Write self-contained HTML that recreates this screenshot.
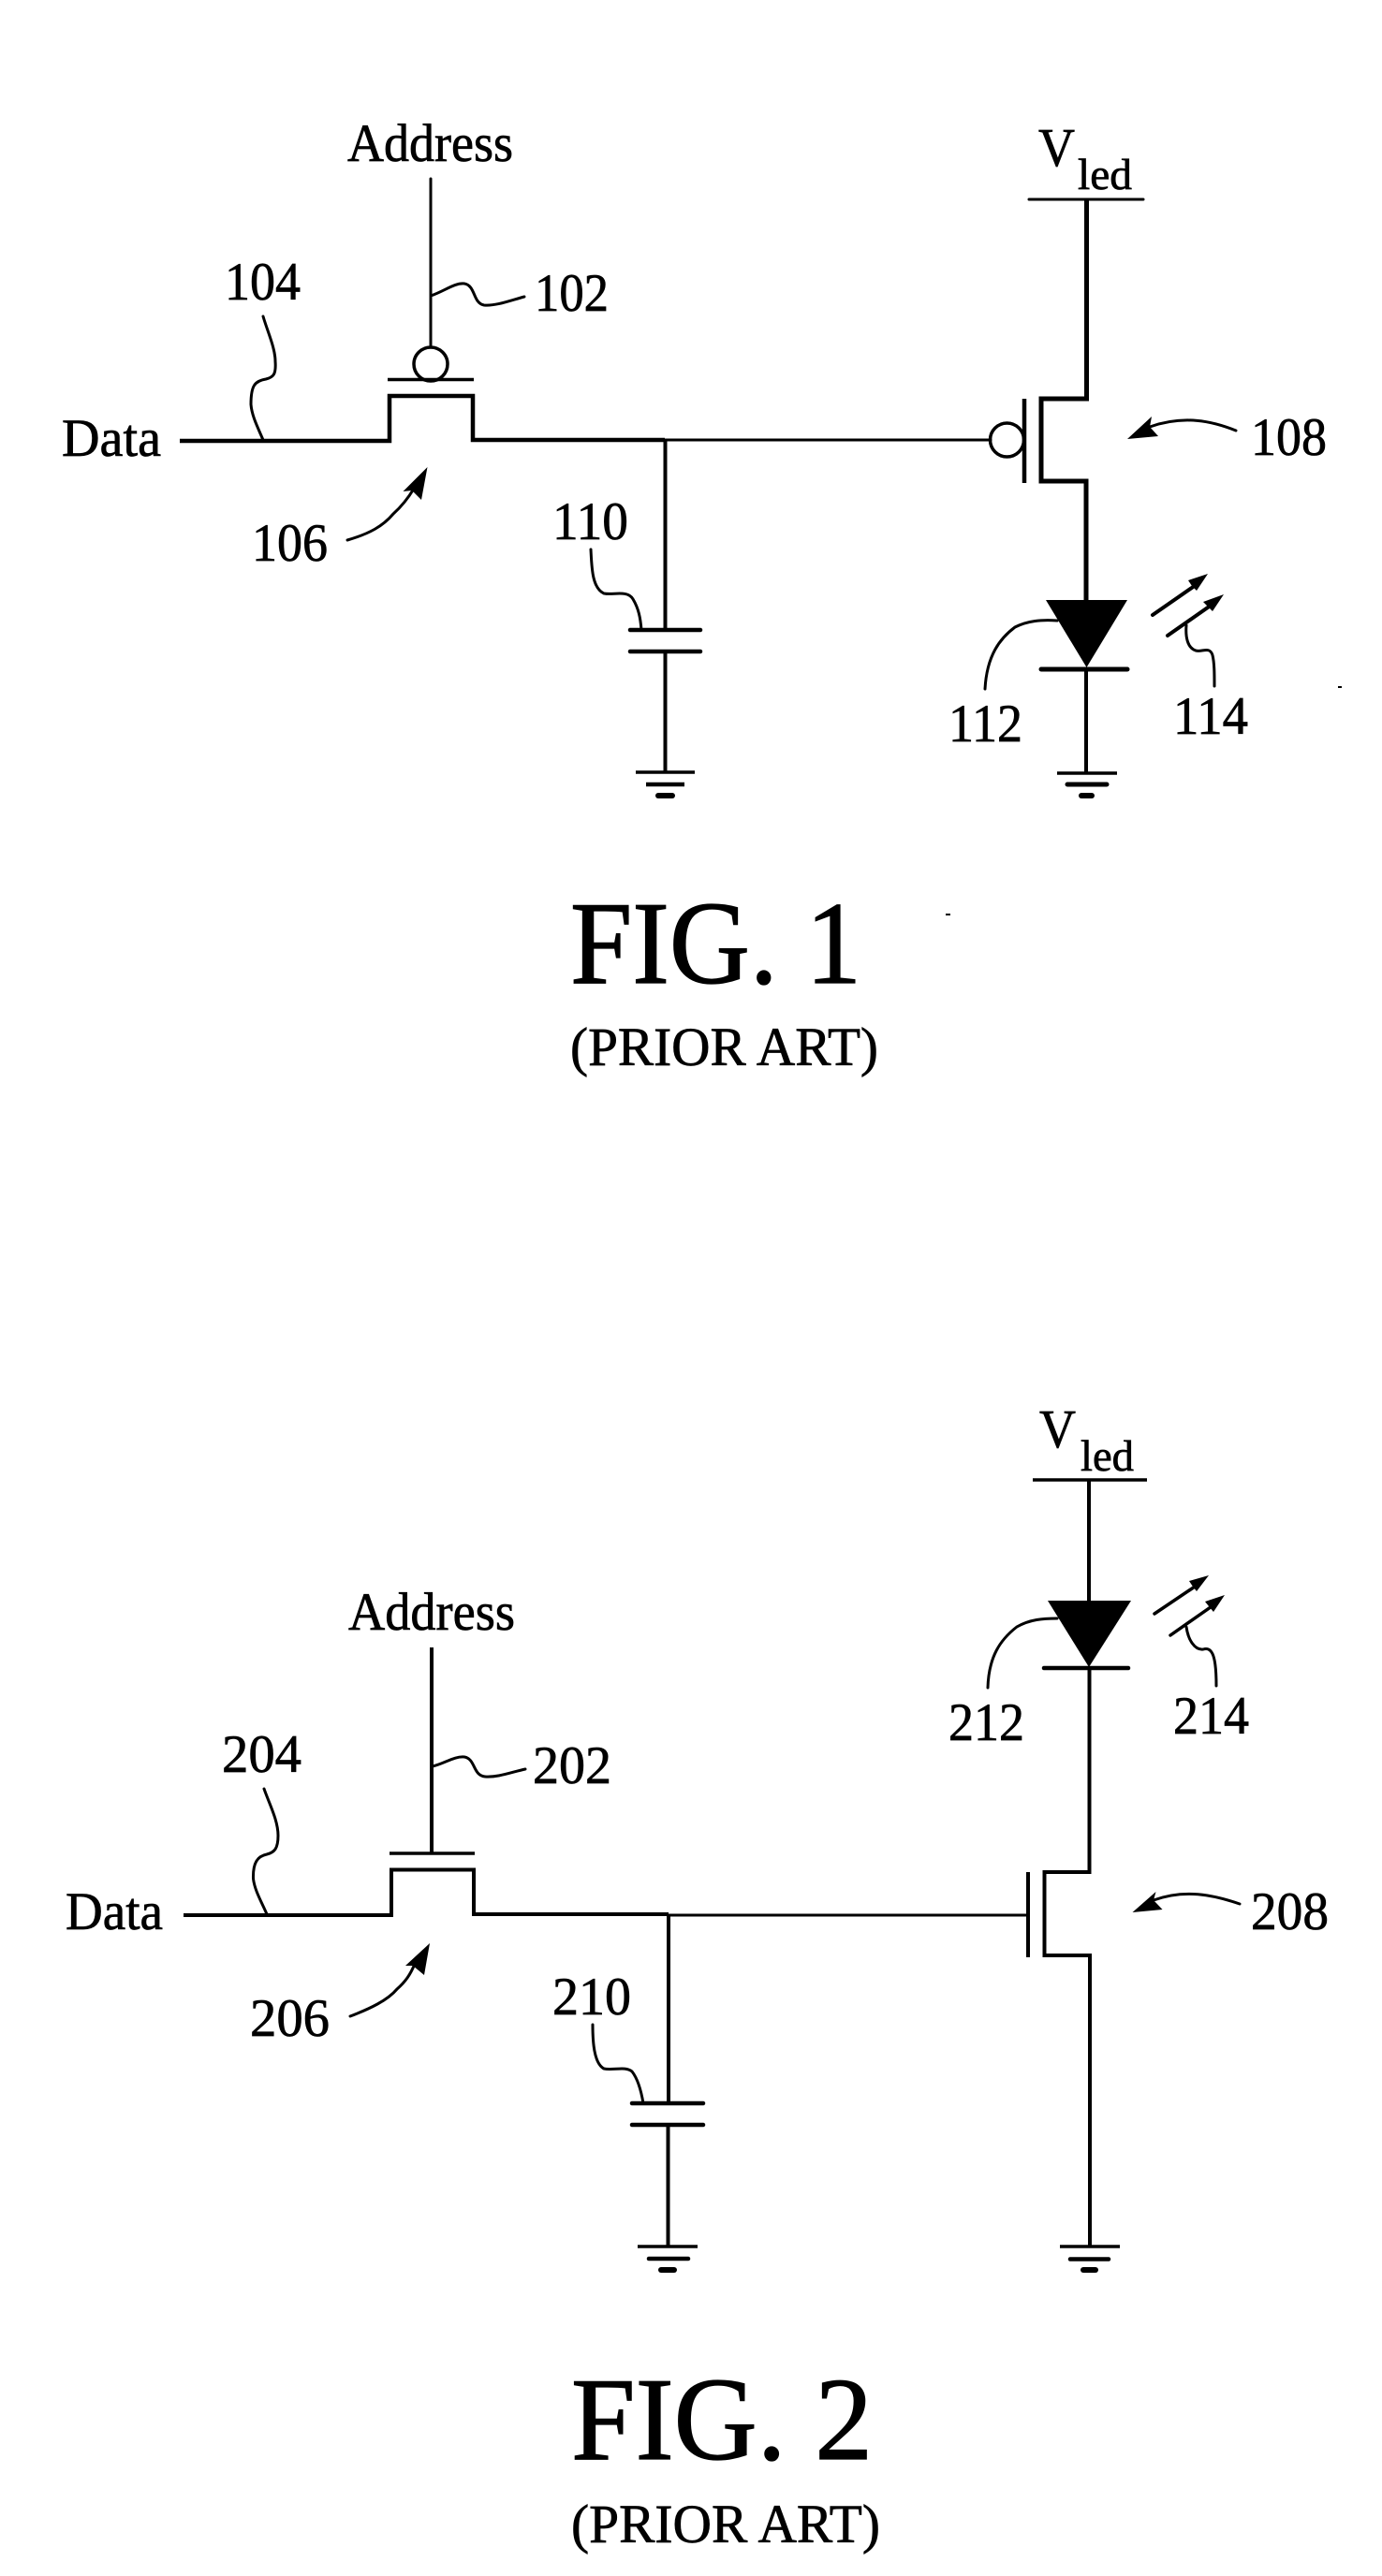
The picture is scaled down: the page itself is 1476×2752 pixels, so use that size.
<!DOCTYPE html>
<html><head><meta charset="utf-8"><style>
html,body{margin:0;padding:0;background:#fff;width:1476px;height:2752px;overflow:hidden}
svg{display:block}
text{font-family:"Liberation Serif",serif;fill:#000;stroke:#000;stroke-width:.7}
.w{fill:none;stroke:#000;stroke-width:4;stroke-linejoin:miter;stroke-linecap:butt}
.t{fill:none;stroke:#000;stroke-width:3;stroke-linecap:round}
.l{fill:none;stroke:#000;stroke-width:3;stroke-linecap:round}
.n{font-size:57px}
.f{stroke-width:1.3}
</style></head><body>
<svg width="1476" height="2752" viewBox="0 0 1476 2752" xmlns="http://www.w3.org/2000/svg">
<rect width="1476" height="2752" fill="#fff"/>

<!-- FIG 1 -->
<text x="371" y="172" font-size="57" textLength="177" lengthAdjust="spacingAndGlyphs">Address</text>
<text x="66" y="487" font-size="57" textLength="106" lengthAdjust="spacingAndGlyphs">Data</text>
<text class="n" x="240" y="320" textLength="81" lengthAdjust="spacingAndGlyphs">104</text>
<text class="n" x="571" y="332" textLength="79" lengthAdjust="spacingAndGlyphs">102</text>
<text class="n" x="269" y="599" textLength="81" lengthAdjust="spacingAndGlyphs">106</text>
<text class="n" x="590" y="576" textLength="81" lengthAdjust="spacingAndGlyphs">110</text>
<text class="n" x="1336" y="486" textLength="81" lengthAdjust="spacingAndGlyphs">108</text>
<text class="n" x="1013" y="792" textLength="79" lengthAdjust="spacingAndGlyphs">112</text>
<text class="n" x="1253" y="784" textLength="80" lengthAdjust="spacingAndGlyphs">114</text>
<text x="1109" y="177" font-size="58" textLength="39" lengthAdjust="spacingAndGlyphs">V</text>
<text x="1151" y="202" font-size="47" textLength="58" lengthAdjust="spacingAndGlyphs">led</text>

<path class="t" d="M460 191V371"/>
<circle cx="460" cy="389" r="18" fill="none" stroke="#000" stroke-width="3.5"/>
<path class="w" d="M414 405.5H506" style="stroke-width:3.5"/>
<path class="w" d="M192 471H416V423H505V470H710" style="stroke-width:4.5"/>
<path class="t" d="M710 470H1058"/>
<path class="w" d="M710.5 470V673M710.5 696V825"/>
<path class="w" d="M673 673H748M673 696H748" style="stroke-width:4.5;stroke-linecap:round"/>
<path class="w" d="M679 825H742" style="stroke-width:3.5"/>
<path class="w" d="M690 838H731" style="stroke-width:4.5"/>
<path class="w" d="M703 850H718" style="stroke-width:6;stroke-linecap:round"/>

<path class="t" d="M1099 213H1221"/>
<path class="w" d="M1160.5 213V426H1112V514H1160V641" style="stroke-width:5"/>
<path class="w" d="M1094 426V516" style="stroke-width:4.5"/>
<circle cx="1075.5" cy="470" r="18" fill="none" stroke="#000" stroke-width="3.5"/>
<polygon points="1117,641 1204,641 1160.5,713"/>
<path class="w" d="M1112 715H1204" style="stroke-width:5;stroke-linecap:round"/>
<path class="w" d="M1160 715V826" style="stroke-width:4"/>
<path class="w" d="M1129 826H1193" style="stroke-width:3.5"/>
<path class="w" d="M1140 838H1182" style="stroke-width:5;stroke-linecap:round"/>
<path class="w" d="M1155 850H1166" style="stroke-width:6;stroke-linecap:round"/>

<path class="l" d="M281 338C286 355 294 372 294 386C295 400 292 403 284 405C272 407 268 412 268 432C269 445 276 458 281 470"/>
<path class="l" d="M460 316C475 311 485 302 496 303C508 305 505 324 517 326C530 327 545 321 560 317"/>
<path class="l" d="M371 577C395 570 409 562 420 549C430 540 436 532 442 522"/>
<polygon points="456.5,499 430.5,525 440,524 450,534"/>
<path class="l" d="M631 587C632 605 632 628 645 634C655 636 670 630 676 640C682 650 684 660 685 673"/>
<path class="l" d="M1320 460C1295 450 1265 443 1228 456"/>
<polygon points="1204,469 1230,445 1228,456 1237,466"/>
<path class="l" d="M1231 657L1280 623" style="stroke-width:4"/>
<polygon points="1290,613 1269,620 1273,626 1278,631"/>
<path class="l" d="M1247 679L1297 644" style="stroke-width:4"/>
<polygon points="1307,635 1285,643 1290,648 1295,653"/>
<path class="l" d="M1267 668C1266 680 1268 692 1277 695C1284 697 1292 690 1295 700C1297 708 1297 720 1297 733"/>
<path class="l" d="M1052 736C1054 700 1068 682 1084 670C1098 663 1112 662 1129 663"/>
<rect x="1429" y="733" width="4" height="2"/>
<rect x="1010" y="976" width="5" height="2"/>

<text class="f" x="609" y="1050" font-size="126" textLength="311" lengthAdjust="spacingAndGlyphs">FIG. 1</text>
<text x="609" y="1138" font-size="58" textLength="329" lengthAdjust="spacingAndGlyphs">(PRIOR ART)</text>

<!-- FIG 2 -->
<text x="372" y="1741" font-size="57" textLength="178" lengthAdjust="spacingAndGlyphs">Address</text>
<text x="70" y="2061" font-size="57" textLength="104" lengthAdjust="spacingAndGlyphs">Data</text>
<text class="n" x="237" y="1893" textLength="85" lengthAdjust="spacingAndGlyphs">204</text>
<text class="n" x="569" y="1905" textLength="84" lengthAdjust="spacingAndGlyphs">202</text>
<text class="n" x="267" y="2175" textLength="85" lengthAdjust="spacingAndGlyphs">206</text>
<text class="n" x="590" y="2152" textLength="84" lengthAdjust="spacingAndGlyphs">210</text>
<text class="n" x="1336" y="2061" textLength="83" lengthAdjust="spacingAndGlyphs">208</text>
<text class="n" x="1013" y="1859" textLength="81" lengthAdjust="spacingAndGlyphs">212</text>
<text class="n" x="1253" y="1852" textLength="81" lengthAdjust="spacingAndGlyphs">214</text>
<text x="1110" y="1546" font-size="58" textLength="39" lengthAdjust="spacingAndGlyphs">V</text>
<text x="1154" y="1571" font-size="47" textLength="57" lengthAdjust="spacingAndGlyphs">led</text>

<path class="w" d="M461 1760V1980"/>
<path class="w" d="M416 1980H507" style="stroke-width:3.5"/>
<path class="w" d="M196 2046H418V1997.5H506V2045H714" style="stroke-width:4"/>
<path class="t" d="M714 2046H1098"/>
<path class="w" d="M714 2046V2247M713.5 2270V2400"/>
<path class="w" d="M675 2247H751M675 2270H751" style="stroke-width:4.5;stroke-linecap:round"/>
<path class="w" d="M681 2400H745" style="stroke-width:3.5"/>
<path class="w" d="M693 2413H735" style="stroke-width:4.5;stroke-linecap:round"/>
<path class="w" d="M706 2425H720" style="stroke-width:6;stroke-linecap:round"/>

<path class="w" d="M1103 1581H1225" style="stroke-width:3.5"/>
<path class="w" d="M1163 1581V1710" style="stroke-width:4"/>
<polygon points="1119,1710 1208,1710 1163,1781"/>
<path class="w" d="M1115 1782H1205" style="stroke-width:4.5;stroke-linecap:round"/>
<path class="w" d="M1163.5 1782V2000H1115.5V2089H1164V2400"/>
<path class="w" d="M1098 2000V2091" style="stroke-width:4"/>
<path class="w" d="M1132 2400H1196" style="stroke-width:3.5"/>
<path class="w" d="M1143 2413.5H1184" style="stroke-width:4.5;stroke-linecap:round"/>
<path class="w" d="M1157 2425H1170" style="stroke-width:6;stroke-linecap:round"/>

<path class="l" d="M282 1911C288 1928 297 1945 297 1961C297 1975 293 1979 285 1981C275 1983 270 1990 270.5 2007C272 2020 280 2033 285 2045"/>
<path class="l" d="M462 1887C475 1884 485 1876 496 1877C508 1879 505 1897 518 1898C532 1899 547 1893 561 1890"/>
<path class="l" d="M374 2154C395 2146 414 2137 424 2125C433 2117 438 2110 443 2098"/>
<polygon points="459,2076 433,2100 441,2100 453,2110"/>
<path class="l" d="M633 2163C633 2180 634 2204 645 2210C655 2212 668 2207 675 2213C682 2222 685 2235 687 2247"/>
<path class="l" d="M1324 2034C1295 2024 1265 2018 1232 2030"/>
<polygon points="1209.5,2043 1234.5,2021 1232,2030 1241.5,2040"/>
<path class="l" d="M1233 1724L1282 1691" style="stroke-width:3.5"/>
<polygon points="1291,1683 1270,1689 1274,1695 1278,1700"/>
<path class="l" d="M1250 1747L1300 1712" style="stroke-width:3.5"/>
<polygon points="1308,1704 1287,1711 1291,1716 1296,1722"/>
<path class="l" d="M1267 1738C1269 1752 1276 1763 1285 1762C1295 1759 1299 1770 1299 1801"/>
<path class="l" d="M1055 1803C1056 1770 1068 1752 1086 1738C1100 1730 1114 1729 1129 1729"/>

<text class="f" x="610" y="2627" font-size="126" textLength="322" lengthAdjust="spacingAndGlyphs">FIG. 2</text>
<text x="610" y="2716" font-size="58" textLength="330" lengthAdjust="spacingAndGlyphs">(PRIOR ART)</text>
</svg>
</body></html>
